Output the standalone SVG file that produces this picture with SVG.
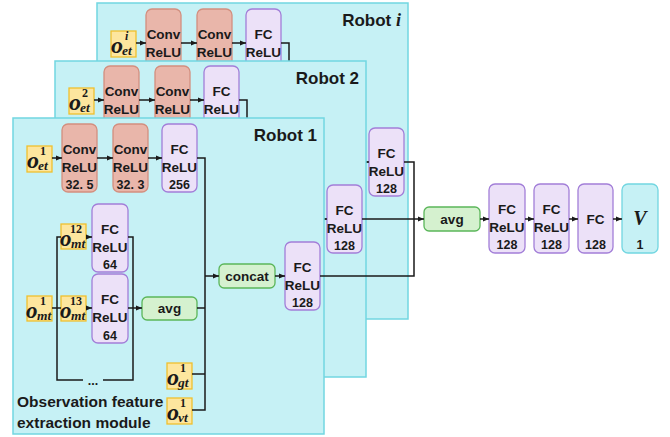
<svg xmlns="http://www.w3.org/2000/svg" width="670" height="437" viewBox="0 0 670 437">
<defs>
<marker id="ah" viewBox="0 0 6 6" refX="6" refY="3" markerWidth="6" markerHeight="6" markerUnits="userSpaceOnUse" orient="auto"><path d="M0,0.6 L6,3 L0,5.4 z" fill="#1a1a1a"/></marker>
<style>
.panel{fill:#c6f1f5;stroke:#72d6e1;stroke-width:1.5}
.conv{fill:#e9b6aa;stroke:#d38f7f;stroke-width:1.3}
.fc{fill:#ece1f8;stroke:#a27ed8;stroke-width:1.3}
.grn{fill:#d5f1cf;stroke:#5bb65a;stroke-width:1.3}
.yel{fill:#fde69e;stroke:#f0c02e;stroke-width:1.3}
.cyn{fill:#c6f1f5;stroke:#72d6e1;stroke-width:1.3}
.t{font-family:"Liberation Sans",Arial,sans-serif;font-weight:bold;font-size:13.5px;text-anchor:middle;fill:#1a1a1a}
.n{font-family:"Liberation Sans",Arial,sans-serif;font-weight:bold;font-size:12.5px;text-anchor:middle;fill:#1a1a1a}
.lbl{font-family:"Liberation Sans",Arial,sans-serif;font-weight:bold;font-size:17px;text-anchor:end;fill:#1a1a1a}
.cap{font-family:"Liberation Sans",Arial,sans-serif;font-weight:bold;font-size:15.5px;fill:#1a1a1a}
.m{font-family:"Liberation Serif","Times New Roman",serif;font-weight:bold;font-style:italic;fill:#1a1a1a}
.mu{font-family:"Liberation Serif","Times New Roman",serif;font-weight:bold;font-style:normal;fill:#1a1a1a}
.sp{font-size:12px}
.sb{font-size:13.5px}
.ln{fill:none;stroke:#1a1a1a;stroke-width:1.5}
</style>
</defs>

<!-- Robot i (back) -->
<g id="robot-i">
<rect class="panel" x="97" y="3" width="311" height="316"/>
<text class="lbl" x="401" y="26">Robot <tspan class="m" font-size="18">i</tspan></text>
<g id="ri-o"><rect class="yel" x="111" y="31" width="25" height="26"/>
<text class="m" font-size="24" x="111" y="53">o</text><text class="m sp" x="125" y="40">i</text><text class="m sb" x="122" y="55">et</text></g>
<g id="ri-conv1"><rect class="conv" x="146" y="9" width="35" height="68" rx="6"/><text class="t" x="163.5" y="39">Conv</text><text class="t" x="163.5" y="57">ReLU</text></g>
<g id="ri-conv2"><rect class="conv" x="197" y="9" width="35" height="68" rx="6"/><text class="t" x="214.5" y="39">Conv</text><text class="t" x="214.5" y="57">ReLU</text></g>
<g id="ri-fc"><rect class="fc" x="246" y="9" width="35" height="68" rx="6"/><text class="t" x="263.5" y="39">FC</text><text class="t" x="263.5" y="57">ReLU</text></g>
<g id="ri-fc128"><rect class="fc" x="369" y="128" width="35" height="68" rx="6"/><text class="t" x="386.5" y="158">FC</text><text class="t" x="386.5" y="176">ReLU</text><text class="n" x="386.5" y="193">128</text></g>
<g id="ri-connectors">
<path class="ln" d="M136,43 H146" marker-end="url(#ah)"/>
<path class="ln" d="M181,43 H197" marker-end="url(#ah)"/>
<path class="ln" d="M232,43 H246" marker-end="url(#ah)"/>
<path class="ln" d="M281,43 H289 V80"/>
<path class="ln" d="M359,162 H369" marker-end="url(#ah)"/>
</g>
</g>

<!-- Robot 2 -->
<g id="robot-2">
<rect class="panel" x="55" y="61" width="311" height="316"/>
<text class="lbl" x="359" y="84">Robot 2</text>
<g id="r2-o"><rect class="yel" x="69" y="88" width="25" height="26"/>
<text class="m" font-size="24" x="69" y="110">o</text><text class="mu sp" x="82" y="97">2</text><text class="m sb" x="80" y="112">et</text></g>
<g id="r2-conv1"><rect class="conv" x="104" y="66" width="35" height="68" rx="6"/><text class="t" x="121.5" y="96">Conv</text><text class="t" x="121.5" y="114">ReLU</text></g>
<g id="r2-conv2"><rect class="conv" x="155" y="66" width="35" height="68" rx="6"/><text class="t" x="172.5" y="96">Conv</text><text class="t" x="172.5" y="114">ReLU</text></g>
<g id="r2-fc"><rect class="fc" x="204" y="66" width="35" height="68" rx="6"/><text class="t" x="221.5" y="96">FC</text><text class="t" x="221.5" y="114">ReLU</text></g>
<g id="r2-fc128"><rect class="fc" x="327" y="185" width="35" height="68" rx="6"/><text class="t" x="344.5" y="215">FC</text><text class="t" x="344.5" y="233">ReLU</text><text class="n" x="344.5" y="250">128</text></g>
<g id="r2-connectors">
<path class="ln" d="M94,100 H104" marker-end="url(#ah)"/>
<path class="ln" d="M139,100 H155" marker-end="url(#ah)"/>
<path class="ln" d="M190,100 H204" marker-end="url(#ah)"/>
<path class="ln" d="M239,100 H247 V140"/>
<path class="ln" d="M317,219 H327" marker-end="url(#ah)"/>
</g>
</g>

<!-- Robot 1 (front) -->
<g id="robot-1">
<rect class="panel" x="13" y="118" width="311" height="316"/>
<text class="lbl" x="317" y="141">Robot 1</text>
<text class="cap" x="17" y="407">Observation feature</text>
<text class="cap" x="17" y="428">extraction module</text>
</g>
<g id="o-et1"><rect class="yel" x="27" y="146" width="25" height="26"/>
<text class="m" font-size="24" x="27" y="168">o</text><text class="mu sp" x="40" y="155">1</text><text class="m sb" x="38" y="170">et</text></g>
<g id="conv1"><rect class="conv" x="62" y="124" width="35" height="68" rx="6"/><text class="t" x="79.5" y="154">Conv</text><text class="t" x="79.5" y="172">ReLU</text><text class="n" x="79.5" y="189">32. 5</text></g>
<g id="conv2"><rect class="conv" x="113" y="124" width="35" height="68" rx="6"/><text class="t" x="130.5" y="154">Conv</text><text class="t" x="130.5" y="172">ReLU</text><text class="n" x="130.5" y="189">32. 3</text></g>
<g id="fc256"><rect class="fc" x="162" y="124" width="35" height="68" rx="6"/><text class="t" x="179.5" y="154">FC</text><text class="t" x="179.5" y="172">ReLU</text><text class="n" x="179.5" y="189">256</text></g>
<g id="o-mt12"><rect class="yel" x="61" y="224" width="25" height="25"/>
<text class="m" font-size="23" x="60" y="246">o</text><text class="mu sp" x="70" y="233">12</text><text class="m sb" x="71" y="248">mt</text></g>
<g id="o-mt13"><rect class="yel" x="61" y="296" width="25" height="25"/>
<text class="m" font-size="23" x="60" y="318">o</text><text class="mu sp" x="70" y="305">13</text><text class="m sb" x="71" y="320">mt</text></g>
<g id="o-mt1"><rect class="yel" x="27" y="296" width="25" height="25"/>
<text class="m" font-size="23" x="26" y="318">o</text><text class="mu sp" x="40" y="305">1</text><text class="m sb" x="37" y="320">mt</text></g>
<g id="fc64a"><rect class="fc" x="92" y="204" width="36" height="68" rx="6"/><text class="t" x="110" y="234">FC</text><text class="t" x="110" y="252">ReLU</text><text class="n" x="110" y="269">64</text></g>
<g id="fc64b"><rect class="fc" x="92" y="274" width="36" height="69" rx="6"/><text class="t" x="110" y="304">FC</text><text class="t" x="110" y="322">ReLU</text><text class="n" x="110" y="340">64</text></g>
<g id="avg1"><rect class="grn" x="142" y="297" width="55" height="23" rx="5"/><text class="t" x="169.5" y="313">avg</text></g>
<g id="o-gt1"><rect class="yel" x="167" y="363" width="25" height="26"/>
<text class="m" font-size="24" x="167" y="385">o</text><text class="mu sp" x="180" y="372">1</text><text class="m sb" x="178" y="387">gt</text></g>
<g id="o-vt1"><rect class="yel" x="167" y="398" width="25" height="26"/>
<text class="m" font-size="24" x="167" y="420">o</text><text class="mu sp" x="180" y="407">1</text><text class="m sb" x="178" y="422">vt</text></g>
<g id="concat"><rect class="grn" x="219" y="264" width="56" height="24" rx="5"/><text class="t" x="247" y="281">concat</text></g>
<g id="fc128-r1"><rect class="fc" x="285" y="242" width="35" height="68" rx="6"/><text class="t" x="302.5" y="272">FC</text><text class="t" x="302.5" y="290">ReLU</text><text class="n" x="302.5" y="307">128</text></g>

<g id="avg2"><rect class="grn" x="424" y="207" width="56" height="24" rx="5"/><text class="t" x="452" y="224">avg</text></g>
<g id="fc-h1"><rect class="fc" x="489" y="184" width="36" height="69" rx="6"/><text class="t" x="507" y="214">FC</text><text class="t" x="507" y="232">ReLU</text><text class="n" x="507" y="249">128</text></g>
<g id="fc-h2"><rect class="fc" x="534" y="184" width="35" height="69" rx="6"/><text class="t" x="551.5" y="214">FC</text><text class="t" x="551.5" y="232">ReLU</text><text class="n" x="551.5" y="249">128</text></g>
<g id="fc-h3"><rect class="fc" x="578" y="184" width="35" height="69" rx="6"/><text class="t" x="595.5" y="224">FC</text><text class="n" x="595.5" y="249">128</text></g>
<g id="v-out"><rect class="cyn" x="622" y="184" width="36" height="69" rx="6"/><text class="m" font-size="20" x="640" y="225" text-anchor="middle">V</text><text class="n" x="640" y="249">1</text></g>

<g id="connectors">
<path class="ln" d="M52,158 H62" marker-end="url(#ah)"/>
<path class="ln" d="M97,158 H113" marker-end="url(#ah)"/>
<path class="ln" d="M148,158 H162" marker-end="url(#ah)"/>
<path class="ln" d="M197,158 H205 V410 H192"/>
<path class="ln" d="M192,374 H205"/>
<path class="ln" d="M197,308 H205"/>
<path class="ln" d="M205,276 H219" marker-end="url(#ah)"/>
<path class="ln" d="M275,276 H285" marker-end="url(#ah)"/>
<path class="ln" d="M52,308 H61"/>
<path class="ln" d="M61,237 H57 V380 H83"/>
<path class="ln" d="M86,237 H92" marker-end="url(#ah)"/>
<path class="ln" d="M86,308 H92" marker-end="url(#ah)"/>
<path class="ln" d="M128,237 H133 V380 H103"/>
<path class="ln" d="M128,308 H142" marker-end="url(#ah)"/>
<path class="ln" d="M320,276 H414 V162 H404"/>
<path class="ln" d="M362,219 H424" marker-end="url(#ah)"/>
<path class="ln" d="M480,219 H489" marker-end="url(#ah)"/>
<path class="ln" d="M525,219 H534" marker-end="url(#ah)"/>
<path class="ln" d="M569,219 H578" marker-end="url(#ah)"/>
<path class="ln" d="M613,219 H622" marker-end="url(#ah)"/>
</g>
<text class="n" x="93" y="385">...</text>
</svg>
